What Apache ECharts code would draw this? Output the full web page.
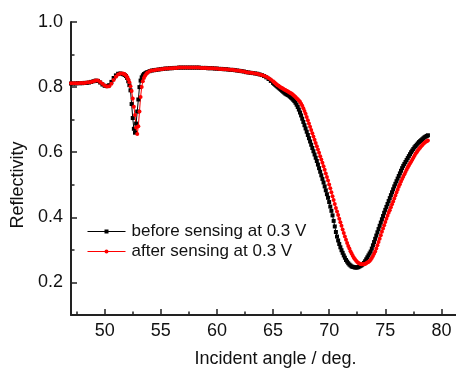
<!DOCTYPE html>
<html>
<head>
<meta charset="utf-8">
<script src="https://cdn.jsdelivr.net/npm/echarts@6/dist/echarts.min.js"></script>
<style>html,body{margin:0;padding:0;background:#fff;}#c{width:456px;height:373px;}</style>
</head>
<body>
<div id="c"></div>
<script>
// Incident angles (deg.)
const angles = [
  47.0,47.2,47.4,47.6,47.8,48.0,48.2,48.4,48.6,48.8,49.0,49.2,49.4,49.6,49.8,50.0,50.2,50.4,50.6,50.8,51.0,51.2,51.4,51.6,
  51.7,51.8,51.9,52.0,52.1,52.2,52.3,52.4,52.5,52.6,52.7,52.8,52.9,53.0,53.1,53.2,53.3,53.4,53.5,53.6,53.7,53.8,
  54.0,54.2,54.4,54.6,54.8,55.0,55.2,55.4,55.6,55.8,56.0,56.2,56.4,56.6,56.8,57.0,57.2,57.4,57.6,57.8,
  58.0,58.2,58.4,58.6,58.8,59.0,59.2,59.4,59.6,59.8,60.0,60.2,60.4,60.6,60.8,61.0,61.2,61.4,61.6,61.8,
  62.0,62.2,62.4,62.6,62.8,63.0,63.2,63.4,63.6,63.8,64.0,64.2,64.4,64.6,64.8,65.0,
  65.1,65.2,65.3,65.4,65.5,65.6,65.7,65.8,65.9,
  66.0,66.1,66.2,66.3,66.4,66.5,66.6,66.7,66.8,66.9,
  67.0,67.1,67.2,67.3,67.4,67.5,67.6,67.7,67.8,67.9,
  68.0,68.1,68.2,68.3,68.4,68.5,68.6,68.7,68.8,68.9,
  69.0,69.1,69.2,69.3,69.4,69.5,69.6,69.7,69.8,69.9,
  70.0,70.1,70.2,70.3,70.4,70.5,70.6,70.7,70.8,70.9,
  71.0,71.1,71.2,71.3,71.4,71.5,71.6,71.7,71.8,71.9,
  72.0,72.1,72.2,72.3,72.4,72.5,72.6,72.7,72.8,72.9,
  73.0,73.1,73.2,73.3,73.4,73.5,73.6,73.7,73.8,73.9,
  74.0,74.1,74.2,74.3,74.4,74.5,74.6,74.7,74.8,74.9,
  75.0,75.1,75.2,75.3,75.4,75.5,75.6,75.7,75.8,75.9,
  76.0,76.1,76.2,76.3,76.4,76.5,76.6,76.7,76.8,76.9,
  77.0,77.1,77.2,77.3,77.4,77.5,77.6,77.7,77.8,77.9,
  78.0,78.1,78.2,78.3,78.4,78.5,78.6,78.7,78.8
];

// Reflectivity before sensing at 0.3 V
const beforeSensing = [
  .811,.811,.811,.812,.812,.812,.813,.813,.814,.816,.818,.820,.819,.814,.808,.804,.803,.806,.816,.828,.836,.841,.842,.840,
  .839,.837,.834,.828,.818,.806,.790,.748,.705,.672,.660,.688,.725,.762,.800,.820,.830,.836,.840,.842,.844,.846,
  .849,.851,.852,.853,.854,.855,.856,.857,.857,.858,.858,.859,.859,.860,.860,.860,.860,.860,.860,.860,
  .860,.860,.860,.859,.859,.859,.858,.858,.858,.857,.857,.856,.856,.855,.855,.854,.853,.853,.852,.851,
  .850,.849,.848,.846,.845,.844,.843,.842,.841,.839,.837,.834,.830,.825,.819,.813,
  .810,.807,.804,.801,.798,.795,.792,.789,.786,
  .783,.780,.778,.776,.774,.771,.768,.765,.761,.757,
  .752,.746,.739,.731,.722,.713,.703,.693,.683,.673,
  .663,.653,.643,.633,.623,.613,.603,.593,.583,.573,
  .562,.551,.540,.529,.518,.507,.495,.483,.471,.460,
  .447,.433,.420,.406,.389,.372,.355,.341,.329,.318,
  .308,.299,.291,.283,.276,.269,.264,.259,.255,.252,
  .249,.248,.247,.246,.246,.246,.247,.249,.251,.253,
  .256,.260,.265,.271,.277,.283,.289,.295,.304,.314,
  .324,.334,.344,.354,.364,.374,.384,.394,.404,.414,
  .423,.432,.441,.450,.459,.468,.477,.486,.495,.503,
  .511,.519,.527,.535,.543,.551,.558,.564,.570,.576,
  .582,.588,.594,.600,.605,.610,.615,.619,.623,.627,
  .631,.634,.637,.640,.643,.646,.648,.650,.652
];

// Reflectivity after sensing at 0.3 V
const afterSensing = [
  .812,.812,.812,.812,.813,.813,.813,.814,.815,.816,.818,.820,.820,.816,.810,.805,.802,.803,.810,.822,.832,.839,.842,.842,
  .841,.839,.836,.831,.824,.815,.803,.788,.765,.740,.714,.676,.656,.680,.725,.770,.800,.818,.828,.835,.840,.844,
  .849,.851,.852,.853,.854,.855,.856,.857,.857,.858,.858,.859,.859,.860,.860,.860,.860,.860,.860,.860,
  .860,.860,.860,.859,.859,.859,.858,.858,.858,.857,.857,.856,.856,.855,.855,.854,.853,.853,.852,.851,
  .850,.849,.848,.846,.845,.844,.843,.842,.841,.839,.837,.835,.832,.828,.823,.818,
  .815,.812,.809,.806,.804,.801,.799,.797,.795,
  .793,.791,.789,.787,.785,.783,.781,.779,.776,.773,
  .770,.766,.763,.759,.755,.749,.743,.735,.727,.718,
  .708,.698,.688,.678,.668,.658,.648,.638,.628,.618,
  .608,.598,.588,.578,.568,.557,.546,.535,.524,.513,
  .501,.489,.477,.465,.453,.441,.429,.418,.407,.396,
  .385,.374,.363,.352,.341,.331,.321,.312,.304,.296,
  .289,.282,.276,.271,.267,.263,.260,.258,.257,.256,
  .256,.256,.257,.259,.261,.263,.266,.270,.275,.281,
  .288,.295,.304,.314,.324,.334,.345,.356,.366,.376,
  .386,.396,.405,.414,.422,.431,.440,.449,.458,.467,
  .476,.485,.494,.502,.510,.518,.525,.532,.539,.546,
  .553,.559,.565,.571,.577,.583,.589,.595,.600,.605,
  .610,.614,.618,.622,.626,.629,.632,.634,.636
];

const seriesNames = ['before sensing at 0.3 V', 'after sensing at 0.3 V'];
const xMajorTicks = [50, 55, 60, 65, 70, 75, 80];
const xMinorTicks = [47.5, 52.5, 57.5, 62.5, 67.5, 72.5, 77.5];
const yMajorTicks = [0.2, 0.4, 0.6, 0.8, 1.0];
const yMinorTicks = [0.3, 0.5, 0.7, 0.9];

const FONT = 'Liberation Sans, Arial, sans-serif';
const AX = '#222';

const chart = echarts.init(document.getElementById('c'), null, {renderer: 'canvas'});
chart.setOption({
  animation: false,
  backgroundColor: '#fff',
  textStyle: {fontFamily: FONT},
  grid: {left: 71, top: 22, right: 0, bottom: 53, containLabel: false},
  legend: {
    orient: 'vertical', left: 87, top: 223, padding: 0,
    itemWidth: 38, itemHeight: 5, itemGap: 3,
    lineStyle: {width: 1},
    textStyle: {fontSize: 17, color: '#111', fontFamily: FONT, padding: [0, 0, 0, 1]},
    data: seriesNames
  },
  xAxis: [{
    type: 'value', min: 47, max: 81.3,
    axisLine: {show: true, onZero: false, lineStyle: {color: AX, width: 2}},
    axisTick: {show: true, inside: true, length: 6, customValues: xMajorTicks, lineStyle: {color: AX, width: 1.5}},
    axisLabel: {customValues: xMajorTicks, fontSize: 18, color: '#111', margin: 7, fontFamily: FONT},
    splitLine: {show: false},
    name: 'Incident angle / deg.', nameLocation: 'middle', nameGap: 35,
    nameTextStyle: {fontSize: 18, color: '#111', fontFamily: FONT, padding: [0, 0, 0, 24]}
  }, {
    type: 'value', min: 47, max: 81.3, position: 'bottom',
    axisLine: {show: false},
    axisTick: {show: true, inside: true, length: 3.5, customValues: xMinorTicks, lineStyle: {color: AX, width: 1.5}},
    axisLabel: {show: false},
    splitLine: {show: false}
  }],
  yAxis: [{
    type: 'value', min: 0.1, max: 1.0,
    axisLine: {show: true, onZero: false, lineStyle: {color: AX, width: 2}},
    axisTick: {show: true, inside: true, length: 6, customValues: yMajorTicks, lineStyle: {color: AX, width: 1.5}},
    axisLabel: {customValues: yMajorTicks, fontSize: 18, color: '#111', margin: 8, fontFamily: FONT,
      formatter: v => v.toFixed(1)},
    splitLine: {show: false},
    name: 'Reflectivity', nameLocation: 'middle', nameGap: 40,
    nameTextStyle: {fontSize: 18, color: '#111', fontFamily: FONT, padding: [0, 33, 0, 0]}
  }, {
    type: 'value', min: 0.1, max: 1.0, position: 'left',
    axisLine: {show: false},
    axisTick: {show: true, inside: true, length: 3.5, customValues: yMinorTicks, lineStyle: {color: AX, width: 1.5}},
    axisLabel: {show: false},
    splitLine: {show: false}
  }],
  series: [{
    name: seriesNames[0], type: 'line', xAxisIndex: 0, yAxisIndex: 0,
    data: angles.map((a, i) => [a, beforeSensing[i]]),
    symbol: 'rect', symbolSize: 4, showAllSymbol: true,
    lineStyle: {color: '#000', width: 1}, itemStyle: {color: '#000'}
  }, {
    name: seriesNames[1], type: 'line', xAxisIndex: 0, yAxisIndex: 0,
    data: angles.map((a, i) => [a, afterSensing[i]]),
    symbol: 'circle', symbolSize: 4, showAllSymbol: true,
    lineStyle: {color: '#ff0000', width: 1}, itemStyle: {color: '#ff0000'}
  }]
});
</script>
</body>
</html>
